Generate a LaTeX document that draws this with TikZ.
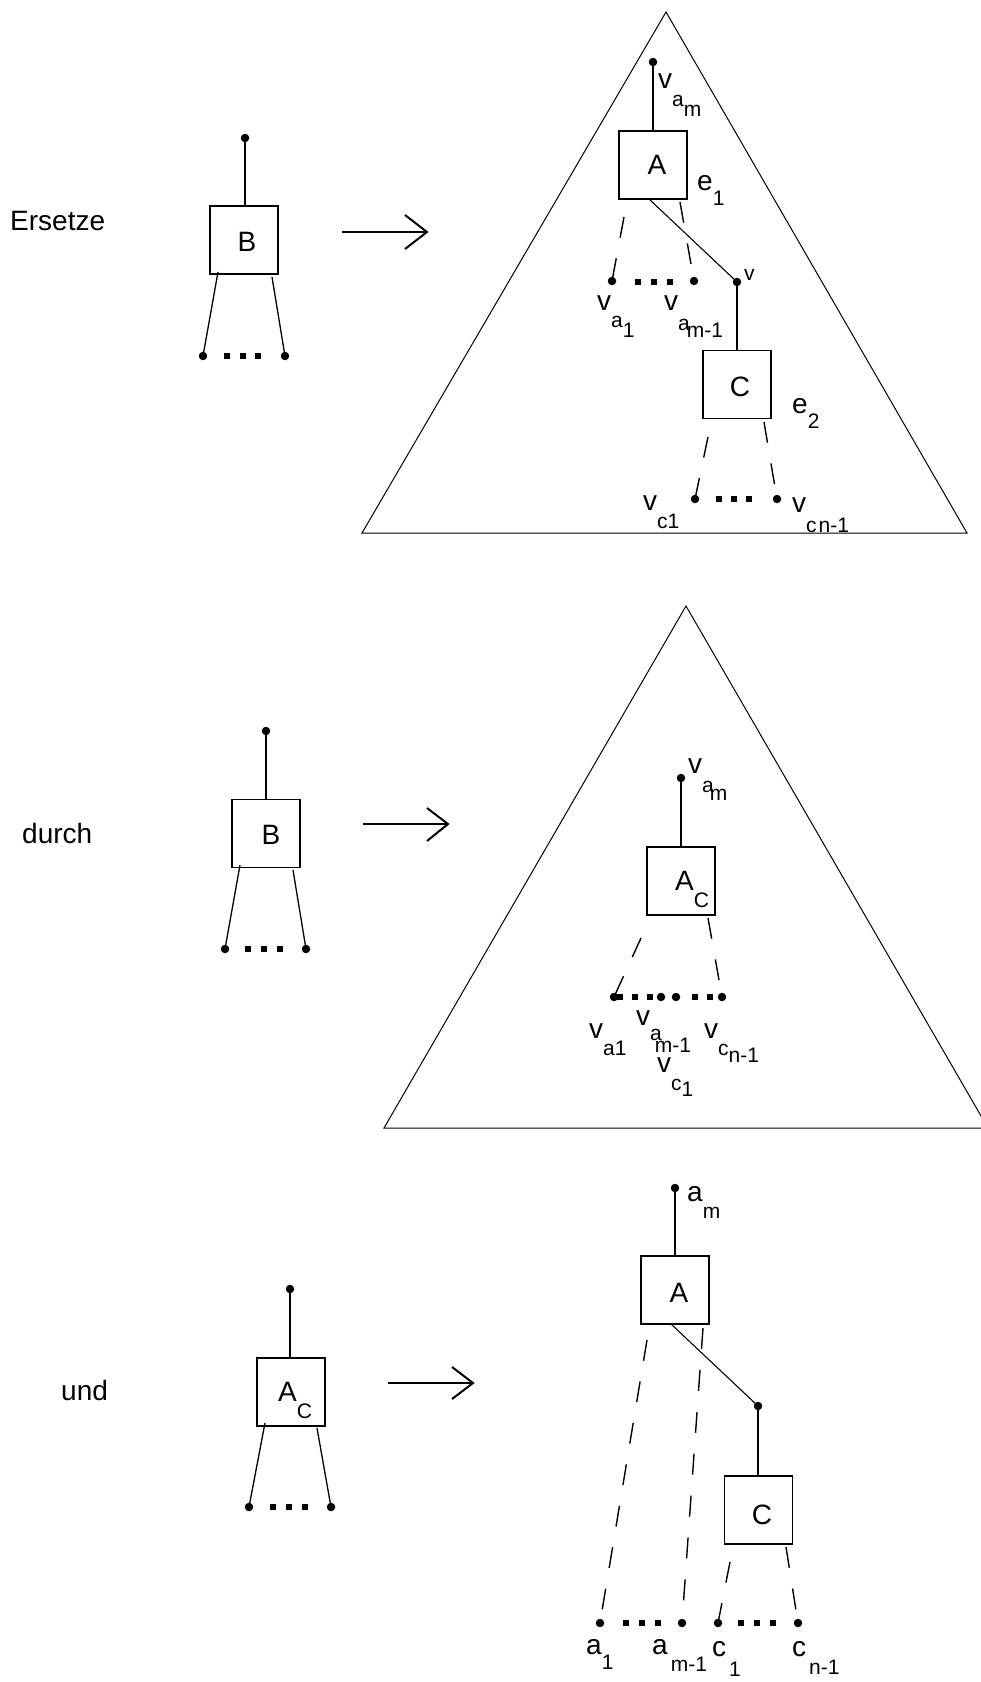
\documentclass[tikz,border=0pt]{standalone}
\usepackage{fontspec}
\setmainfont{Liberation Sans}
\usetikzlibrary{calc}
\newcommand{\tfMain}{\fontsize{28}{30}\selectfont}
\newcommand{\tfSub}{\fontsize{21}{23}\selectfont}
\newcommand{\lowr}[2]{\raisebox{-#1pt}{\tfSub #2}}
\begin{document}
\begin{tikzpicture}[x=1pt,y=-1pt,
  boxnode/.style={draw,line width=1.2pt,minimum width=68pt,minimum height=68pt,inner sep=0pt},
  dotnode/.style={circle,fill=black,inner sep=0pt,minimum size=8.5pt},
  sqnode/.style={rectangle,fill=black,inner sep=0pt,minimum size=6pt},
  edgeline/.style={line width=1.1pt},
  legline/.style={line width=1.3pt},
  dashline/.style={line width=1.4pt,dash pattern=on 21pt off 21pt},
  triline/.style={line width=1pt},
  arrline/.style={line width=2pt,line join=miter},
  lbl/.style={anchor=base west,inner sep=0pt,font=\tfMain},
  boxtxt/.style={inner sep=0pt,font=\tfMain}]
\useasboundingbox (0,0) rectangle (981,1682);
\clip (0,0) rectangle (981,1682);

% ================= Row 1 =================
\node[lbl] (ersetze) at (10,230) {Ersetze};
\node[boxnode] (B1) at (244,240) {};
\node[boxtxt] (B1t) at (247,242) {B};
\node[dotnode] (B1top) at (245,138) {};
\draw[legline] (B1top) -- (B1top |- B1.north);
\node[dotnode] (B1d1) at (203,356) {};
\node[dotnode] (B1d2) at (285,356) {};
\foreach \i/\x in {1/227,2/243,3/258} \node[sqnode] (B1s\i) at (\x,356) {};
\coordinate (B1l) at (218,272);
\coordinate (B1r) at (272,277);
\draw[legline] (B1l) -- (B1d1.center);
\draw[legline] (B1r) -- (B1d2.center);

\coordinate (ar1s) at (342,232);
\coordinate (ar1e) at (427,232);
\coordinate (ar1u) at (405,215);
\coordinate (ar1d) at (405,249);
\draw[arrline] (ar1s) -- (ar1e);
\draw[arrline] (ar1u) -- (ar1e) -- (ar1d);

\coordinate (T1a) at (666,12);
\coordinate (T1l) at (362,533);
\coordinate (T1r) at (967,533);
\draw[triline] (T1l) -- (T1a) -- (T1r) -- cycle;

\node[dotnode] (t1top) at (653,62) {};
\node[boxnode] (A1) at (653,165) {};
\node[boxtxt] (A1t) at (657,165) {A};
\draw[edgeline] (t1top) -- (t1top |- A1.north);
\node[dotnode] (v1) at (737,282) {};
\coordinate (A1o) at (649,199);
\draw[edgeline] (A1o) -- (v1.center);
\node[boxnode] (C1) at (737,384.5) {};
\node[boxtxt] (C1t) at (740,387) {C};
\draw[edgeline] (v1) -- (v1 |- C1.north);

\node[dotnode] (a1d1) at (612,281) {};
\node[dotnode] (a1d2) at (694,281) {};
\foreach \i/\x in {1/638,2/654,3/670} \node[sqnode] (a1s\i) at (\x,282) {};
\coordinate (A1l) at (624,217);
\coordinate (A1r) at (680,202);
\draw[dashline] (A1l) -- (a1d1.center);
\draw[dashline] (A1r) -- (a1d2.center);

\node[dotnode] (c1d1) at (695,499) {};
\node[dotnode] (c1d2) at (777,499) {};
\foreach \i/\x in {1/719,2/734,3/749} \node[sqnode] (c1s\i) at (\x,499) {};
\coordinate (C1l) at (708,437);
\coordinate (C1r) at (764,422);
\draw[dashline] (C1l) -- (c1d1.center);
\draw[dashline] (C1r) -- (c1d2.center);

\node[lbl] (l1am) at (658,88) {v\lowr{18}{a\raisebox{-10pt}{m}}};
\node[lbl] (l1e1) at (697,190) {e\lowr{15}{1}};
\node[lbl,font=\tfSub] (l1v) at (744,280) {v};
\node[lbl] (l1a1) at (597,310) {v\lowr{17}{a\raisebox{-10pt}{1}}};
\node[lbl] (l1am1) at (664,310) {v\lowr{20}{a\kern-3pt\raisebox{-7pt}{m-1}}};
\node[lbl] (l1e2) at (792,413) {e\lowr{15}{2}};
\node[lbl] (l1c1) at (643,510) {v\lowr{18}{c1}};
\node[lbl] (l1cn1) at (792,512) {v\lowr{20}{c\kern2pt n-1}};

% ================= Row 2 =================
\node[lbl] (durch) at (22,843) {durch};
\node[boxnode] (B2) at (266,833.5) {};
\node[boxtxt] (B2t) at (271,835) {B};
\node[dotnode] (B2top) at (266,731) {};
\draw[legline] (B2top) -- (B2top |- B2.north);
\node[dotnode] (B2d1) at (225,949) {};
\node[dotnode] (B2d2) at (306,949) {};
\foreach \i/\x in {1/248,2/264,3/280} \node[sqnode] (B2s\i) at (\x,949) {};
\coordinate (B2l) at (240,865);
\coordinate (B2r) at (293,870);
\draw[legline] (B2l) -- (B2d1.center);
\draw[legline] (B2r) -- (B2d2.center);

\coordinate (ar2s) at (363,824);
\coordinate (ar2e) at (448,824);
\coordinate (ar2u) at (427,808);
\coordinate (ar2d) at (427,841);
\draw[arrline] (ar2s) -- (ar2e);
\draw[arrline] (ar2u) -- (ar2e) -- (ar2d);

\coordinate (T2a) at (686,606);
\coordinate (T2l) at (384,1128);
\coordinate (T2r) at (988,1128);
\draw[triline] (T2l) -- (T2a) -- (T2r) -- cycle;

\node[dotnode] (t2top) at (681,778) {};
\node[boxnode] (AC2) at (681,881) {};
\node[lbl] (AC2t) at (675,890) {A\lowr{17}{C}};
\draw[edgeline] (t2top) -- (t2top |- AC2.north);
\node[dotnode] (r2d1) at (614,997) {};
\node[dotnode] (r2d2) at (661,997) {};
\node[dotnode] (r2d3) at (676,997) {};
\node[dotnode] (r2d4) at (722,997) {};
\foreach \i/\x in {1/620,2/635,3/650,4/695,5/710} \node[sqnode] (r2s\i) at (\x,997) {};
\coordinate (AC2l) at (641,938);
\coordinate (AC2r) at (708,918);
\draw[dashline] (AC2l) -- (r2d1.center);
\draw[dashline] (AC2r) -- (r2d4.center);

\node[lbl] (l2am) at (688,773) {v\lowr{19}{a\kern-4pt\raisebox{-8pt}{m}}};
\node[lbl] (l2a1) at (589,1038) {v\lowr{17}{a1}};
\node[lbl] (l2am1) at (636,1025) {v\lowr{15}{a\kern-7pt\raisebox{-12pt}{m-1}}};
\node[lbl] (l2cn1) at (704,1038) {v\lowr{17}{c\raisebox{-7pt}{n-1}}};
\node[lbl] (l2c1) at (657,1072) {v\lowr{18}{c\raisebox{-6pt}{1}}};

% ================= Row 3 =================
\node[lbl] (und) at (61,1400) {und};
\node[boxnode] (AC3) at (291,1392) {};
\node[lbl] (AC3t) at (278,1401) {A\lowr{17}{C}};
\node[dotnode] (AC3top) at (290,1289) {};
\draw[legline] (AC3top) -- (AC3top |- AC3.north);
\node[dotnode] (AC3d1) at (249,1507) {};
\node[dotnode] (AC3d2) at (331,1507) {};
\foreach \i/\x in {1/273,2/289,3/305} \node[sqnode] (AC3s\i) at (\x,1507) {};
\coordinate (AC3l) at (265,1423);
\coordinate (AC3r) at (317,1428);
\draw[legline] (AC3l) -- (AC3d1.center);
\draw[legline] (AC3r) -- (AC3d2.center);

\coordinate (ar3s) at (388,1383);
\coordinate (ar3e) at (473,1383);
\coordinate (ar3u) at (452,1367);
\coordinate (ar3d) at (452,1399);
\draw[arrline] (ar3s) -- (ar3e);
\draw[arrline] (ar3u) -- (ar3e) -- (ar3d);

\node[dotnode] (t3top) at (675,1188) {};
\node[boxnode] (A3) at (675,1290) {};
\node[boxtxt] (A3t) at (679,1293) {A};
\draw[edgeline] (t3top) -- (t3top |- A3.north);
\node[dotnode] (v3) at (758,1406) {};
\coordinate (A3o) at (671,1324);
\draw[edgeline] (A3o) -- (v3.center);
\node[boxnode] (C3) at (758.5,1510) {};
\node[boxtxt] (C3t) at (762,1515) {C};
\draw[edgeline] (v3) -- (v3 |- C3.north);

\node[dotnode] (r3d1) at (600,1623) {};
\node[dotnode] (r3d2) at (682,1623) {};
\node[dotnode] (r3d3) at (718,1623) {};
\node[dotnode] (r3d4) at (798,1623) {};
\foreach \i/\x in {1/626,2/642,3/658,4/741,5/757,6/773} \node[sqnode] (r3s\i) at (\x,1623) {};
\coordinate (A3l) at (647,1340);
\coordinate (A3r) at (703,1328);
\coordinate (C3l) at (730,1562);
\coordinate (C3r) at (786,1547);
\draw[dashline] (A3l) -- (r3d1.center);
\draw[dashline] (A3r) -- (r3d2.center);
\draw[dashline] (C3l) -- (r3d3.center);
\draw[dashline] (C3r) -- (r3d4.center);

\node[lbl] (l3am) at (687,1201) {a\lowr{17}{m}};
\node[lbl] (l3a1) at (586,1654) {a\lowr{15}{1}};
\node[lbl] (l3am1) at (652,1654) {a\kern3pt\lowr{17}{m-1}};
\node[lbl] (l3c1) at (712,1656) {c\kern3pt\lowr{20}{1}};
\node[lbl] (l3cn1) at (792,1656) {c\kern3pt\lowr{18}{n-1}};
\end{tikzpicture}
\end{document}
